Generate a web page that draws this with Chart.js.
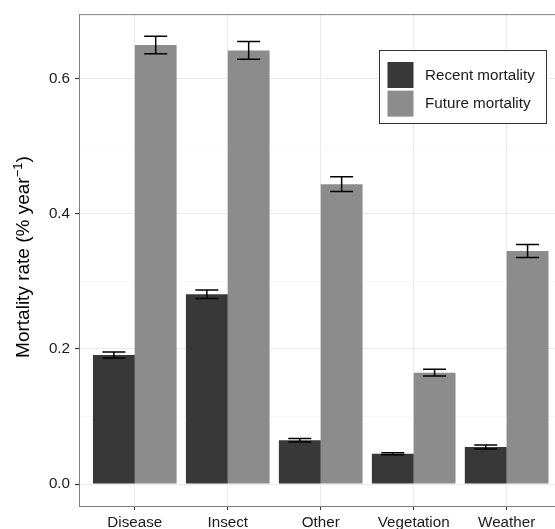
<!DOCTYPE html>
<html>
<head>
<meta charset="utf-8">
<script src="https://cdn.jsdelivr.net/npm/chart.js@4/dist/chart.umd.min.js"></script>
<style>
  html, body { margin: 0; padding: 0; background: #fff; overflow: hidden; }
  canvas { display: block; }
</style>
</head>
<body>
<canvas id="chart" width="555" height="529"></canvas>
<script>
// Mortality rate by cause, recent vs. projected, with standard errors
const categories = ['Disease', 'Insect', 'Other', 'Vegetation', 'Weather'];
const seriesLabels = ['Recent mortality', 'Future mortality'];
const recentMortality = [0.191, 0.281, 0.065, 0.045, 0.055];
const recentError = [0.0045, 0.0064, 0.0025, 0.0015, 0.003];
const futureMortality = [0.650, 0.642, 0.444, 0.165, 0.345];
const futureError = [0.0128, 0.013, 0.011, 0.005, 0.0095];
const yTicks = [0, 0.1, 0.2, 0.3, 0.4, 0.5, 0.6];
const yMajor = [0, 0.2, 0.4, 0.6];

const FONT = '"Liberation Sans", Arial, Helvetica, sans-serif';
const DARK = '#383838';
const LIGHT = '#8c8c8c';
const isMajor = v => yMajor.some(m => Math.abs(m - v) < 1e-9);

const toPoints = vals => vals.map((v, i) => ({ x: i + 1, y: v }));

// Error bars drawn from each bar's centre and the value ± its error
const errorBars = {
  id: 'errorBars',
  afterDatasetsDraw(chart) {
    const ctx = chart.ctx;
    const ys = chart.scales.y;
    ctx.save();
    ctx.strokeStyle = '#000';
    ctx.lineWidth = 1.5;
    chart.data.datasets.forEach((ds, di) => {
      const meta = chart.getDatasetMeta(di);
      meta.data.forEach((bar, i) => {
        const v = ds.data[i].y, e = ds.errors[i];
        const yHi = ys.getPixelForValue(v + e);
        const yLo = ys.getPixelForValue(v - e);
        const half = 11.5;
        ctx.beginPath();
        ctx.moveTo(bar.x - half, yHi); ctx.lineTo(bar.x + half, yHi);
        ctx.moveTo(bar.x, yHi); ctx.lineTo(bar.x, yLo);
        ctx.moveTo(bar.x - half, yLo); ctx.lineTo(bar.x + half, yLo);
        ctx.stroke();
      });
    });
    ctx.restore();
  }
};

// Panel top border, rotated y title with superscript, and boxed legend
const decorations = {
  id: 'decorations',
  afterDraw(chart) {
    const ctx = chart.ctx;
    const a = chart.chartArea;
    ctx.save();
    ctx.strokeStyle = '#7f7f7f';
    ctx.lineWidth = 1;
    ctx.beginPath();
    ctx.moveTo(a.left, a.top + 0.5);
    ctx.lineTo(a.right, a.top + 0.5);
    ctx.stroke();

    // y axis title
    const mainFont = '19px ' + FONT;
    const supFont = '13px ' + FONT;
    const p1 = 'Mortality rate (% year';
    const p2 = '\u22121';
    const p3 = ')';
    ctx.font = mainFont;
    const w1 = ctx.measureText(p1).width;
    const w3 = ctx.measureText(p3).width;
    ctx.font = supFont;
    const w2 = ctx.measureText(p2).width;
    const total = w1 + w2 + w3;
    ctx.translate(29, (a.top + a.bottom) / 2 - 3);
    ctx.rotate(-Math.PI / 2);
    ctx.fillStyle = '#000';
    ctx.textBaseline = 'alphabetic';
    ctx.textAlign = 'left';
    let x = -total / 2;
    ctx.font = mainFont; ctx.fillText(p1, x, 0); x += w1;
    ctx.font = supFont; ctx.fillText(p2, x, -7); x += w2;
    ctx.font = mainFont; ctx.fillText(p3, x, 0);
    ctx.restore();

    // legend
    ctx.save();
    ctx.fillStyle = '#fff';
    ctx.fillRect(379.5, 50.5, 167, 73);
    ctx.strokeStyle = '#333';
    ctx.lineWidth = 1;
    ctx.strokeRect(379.5, 50.5, 167, 73);
    const colors = [DARK, LIGHT];
    ctx.font = '15.2px ' + FONT;
    ctx.textBaseline = 'middle';
    ctx.textAlign = 'left';
    seriesLabels.forEach((lab, i) => {
      const top = 62 + i * 28.6;
      ctx.fillStyle = colors[i];
      ctx.fillRect(387.5, top, 26, 26);
      ctx.fillStyle = '#1a1a1a';
      ctx.fillText(lab, 425, top + 13.5);
    });
    ctx.restore();
  }
};

new Chart(document.getElementById('chart'), {
  type: 'bar',
  data: {
    datasets: [
      { label: seriesLabels[0], data: toPoints(recentMortality), errors: recentError, backgroundColor: DARK },
      { label: seriesLabels[1], data: toPoints(futureMortality), errors: futureError, backgroundColor: LIGHT }
    ]
  },
  options: {
    responsive: false,
    animation: false,
    devicePixelRatio: 1,
    categoryPercentage: 0.9,
    barPercentage: 1,
    layout: { padding: { top: 12, right: 0, bottom: 0, left: 0 } },
    plugins: { legend: { display: false }, tooltip: { enabled: false } },
    scales: {
      x: {
        type: 'linear',
        offset: false,
        min: 0.4,
        max: 5.52,
        afterBuildTicks: s => { s.ticks = categories.map((c, i) => ({ value: i + 1 })); },
        afterFit: s => { s.height = 23; },
        ticks: {
          autoSkip: false,
          maxRotation: 0,
          padding: 4,
          color: '#1a1a1a',
          font: { family: FONT, size: 15.2 },
          callback: v => categories[Math.round(v) - 1]
        },
        grid: { offset: false, color: '#ebebeb', lineWidth: 1, tickLength: 4, tickColor: '#333' },
        border: { display: true, color: '#7f7f7f', width: 1 }
      },
      y: {
        min: -0.0324,
        max: 0.6957,
        afterBuildTicks: s => { s.ticks = yTicks.map(v => ({ value: v })); },
        afterFit: s => { s.width = 79; },
        ticks: {
          autoSkip: false,
          padding: 5,
          color: '#1a1a1a',
          font: { family: FONT, size: 15.2 },
          callback: v => isMajor(v) ? v.toFixed(1) : ''
        },
        grid: {
          color: c => isMajor(c.tick.value) ? '#ebebeb' : '#f5f5f5',
          lineWidth: c => isMajor(c.tick.value) ? 1.1 : 0.7,
          tickLength: 4,
          tickColor: c => isMajor(c.tick.value) ? '#333' : 'rgba(0,0,0,0)'
        },
        border: { display: true, color: '#7f7f7f', width: 1 }
      }
    }
  },
  plugins: [errorBars, decorations]
});
</script>
</body>
</html>
